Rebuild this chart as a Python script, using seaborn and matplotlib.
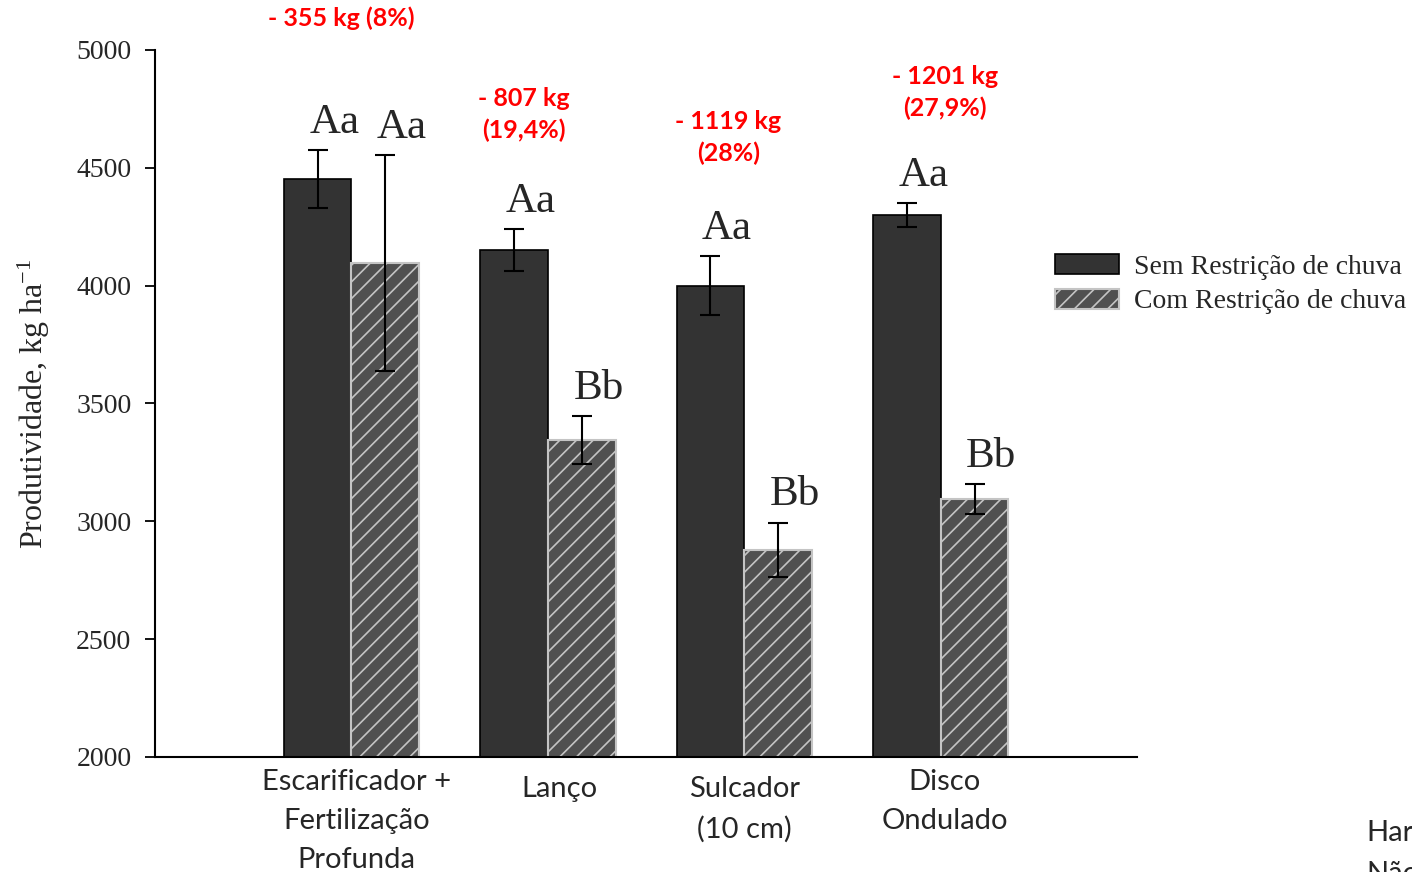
import numpy as np
import pandas as pd
import matplotlib
matplotlib.use("Agg")
import matplotlib.pyplot as plt
import matplotlib.transforms as mtransforms
from matplotlib.patches import Patch
import seaborn as sns

# ---------------- data ----------------
categories = ["Escarificador +\nFertilização\nProfunda", "Lanço", "Sulcador\n(10 cm)", "Disco\nOndulado"]
series = ["Sem Restrição de chuva", "Com Restrição de chuva"]
sem_values = [4453, 4151, 4000, 4300]
com_values = [4096, 3345, 2879, 3095]
sem_err = [123, 88, 125, 50]
com_err = [457, 100, 115, 62]
sem_letters = ["Aa", "Aa", "Aa", "Aa"]
com_letters = ["Aa", "Bb", "Bb", "Bb"]
loss_labels = ["- 355 kg (8%)", "- 807 kg\n(19,4%)", "- 1119 kg\n(28%)", "- 1201 kg\n(27,9%)"]
yticks = [2000, 2500, 3000, 3500, 4000, 4500, 5000]

# layout (annotation anchor positions in data units)
loss_x = [-0.05, 0.88, 1.92, 3.02]
loss_y = [5136, 4725, 4627, 4818]

sns.set_theme(style="white")
plt.rcParams["font.family"] = ["Liberation Serif", "DejaVu Serif"]
plt.rcParams["mathtext.default"] = "regular"
plt.rcParams["hatch.linewidth"] = 1.2

df = pd.DataFrame({
    "cat": categories * 2,
    "serie": [series[0]] * 4 + [series[1]] * 4,
    "val": sem_values + com_values,
})

fig = plt.figure(figsize=(14.12, 8.72), dpi=100)
ax = fig.add_axes([0.1098, 0.1319, 0.6955, 0.8108])

dark = "#333333"
mid = "#505050"
sns.barplot(data=df, x="cat", y="val", hue="serie", order=categories, hue_order=series,
            palette={series[0]: dark, series[1]: mid}, errorbar=None, width=0.69,
            saturation=1, ax=ax, legend=False)

c_sem, c_com = ax.containers[0], ax.containers[1]
for p in c_sem:
    p.set_edgecolor("black")
    p.set_linewidth(1.2)
for p in c_com:
    p.set_edgecolor("#c4c4c4")
    p.set_linewidth(1.5)
    p.set_hatch("//")

for cont, vals, errs, letters in [(c_sem, sem_values, sem_err, sem_letters),
                                  (c_com, com_values, com_err, com_letters)]:
    xs = [p.get_x() + p.get_width() / 2 for p in cont]
    ax.errorbar(xs, vals, yerr=errs, fmt="none", ecolor="black", elinewidth=1.5,
                capsize=7.5, capthick=1.5, zorder=5)
    for x, v, e, t in zip(xs, vals, errs, letters):
        ax.annotate(t, (x, v + e), xytext=(12, 6), textcoords="offset points",
                    ha="center", va="bottom", fontsize=31, family=["Liberation Serif"])

for x, y, t in zip(loss_x, loss_y, loss_labels):
    ax.text(x, y, t, ha="center", va="center", color="#ff0000", fontsize=18,
            fontweight="bold", family=["Lato", "DejaVu Sans"], linespacing=1.45,
            clip_on=False)

ax.set_xlim(-1, 4)
ax.set_ylim(2000, 5000)
ax.set_yticks(yticks)
ax.set_yticklabels([str(v) for v in yticks], fontsize=20)
ax.tick_params(axis="y", direction="out", length=7, width=1.3, pad=10, left=True, color="black")
ax.tick_params(axis="x", length=0, pad=9)
xoffs = [5, 12, 0, 4]
yoffs = [0, -7, -7, 0]
for lab, dx, dy in zip(ax.get_xticklabels(), xoffs, yoffs):
    lab.set_family(["Lato", "DejaVu Sans"])
    lab.set_fontsize(21)
    lab.set_linespacing(1.6)
    lab.set_transform(lab.get_transform() +
                      mtransforms.ScaledTranslation(dx / 100, dy / 100, fig.dpi_scale_trans))
ax.set_xlabel("")
ax.set_ylabel("Produtividade, kg ha$^{-1}$", fontsize=23)
ax.yaxis.set_label_coords(-0.105, 0.5)

for s in ["top", "right"]:
    ax.spines[s].set_visible(False)
for s in ["left", "bottom"]:
    ax.spines[s].set_color("black")
    ax.spines[s].set_linewidth(1.5)

handles = [Patch(facecolor=dark, edgecolor="black", linewidth=1.2, label=series[0]),
           Patch(facecolor=mid, edgecolor="#c4c4c4", linewidth=1.5, hatch="//", label=series[1])]
fig.legend(handles=handles, loc="upper left", bbox_to_anchor=(0.747, 0.709), frameon=False,
           fontsize=20, handlelength=2.3, handleheight=0.75, handletextpad=0.55,
           labelspacing=0.32, borderpad=0, borderaxespad=0)

fig.text(1366 / 1412, 1 - 833 / 872, "Har", fontsize=21, family=["Lato", "DejaVu Sans"],
         ha="left", va="center")
fig.text(1366 / 1412, 1 - 874 / 872, "Não", fontsize=21, family=["Lato", "DejaVu Sans"],
         ha="left", va="center")

fig.savefig("out.png", dpi=100)
